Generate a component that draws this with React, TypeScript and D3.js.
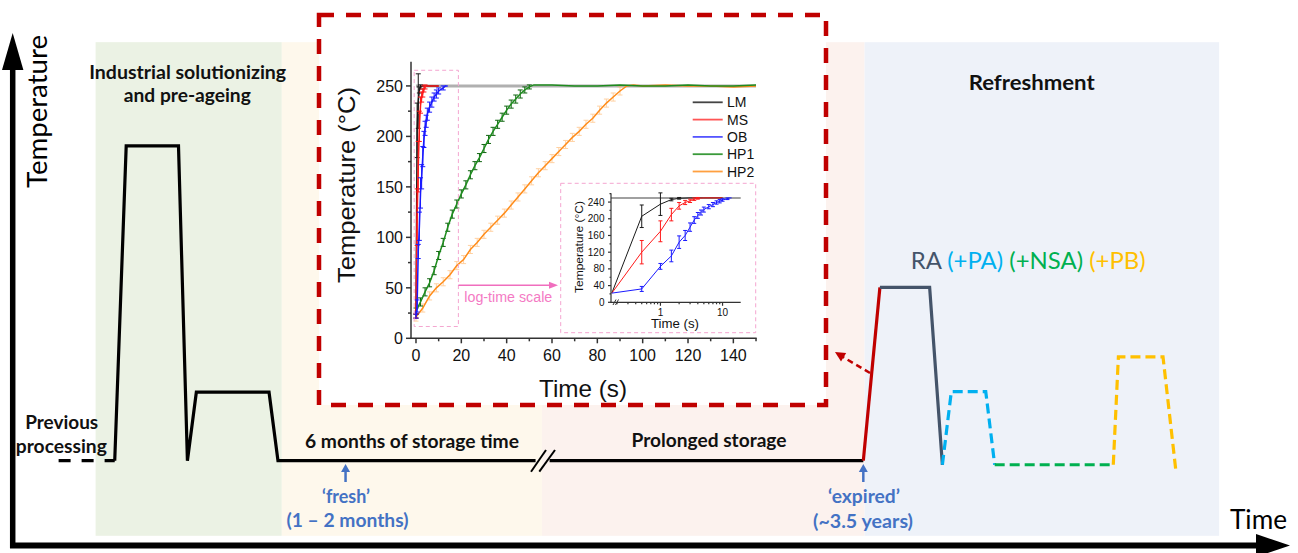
import * as d3 from "d3";
import React from "react";

// ---- inset heating curves (time s, temperature °C, error bar half size) ----
const lmTime = [0, 0.5, 1, 1.5, 2, 3, 5, 10];
const lmTemp = [22, 206, 235, 246, 249, 250, 250, 250];
const lmErr = [2, 27, 27, 3, 2, 1, 1, 1];

const msTime = [0, 0.5, 1, 1.5, 2, 2.5, 3, 3.5, 4, 5, 7, 10];
const msTemp = [22, 120, 170, 210, 231, 239, 243, 247, 249, 250, 250, 250];
const msErr = [2, 28, 25, 15, 8, 5, 4, 3, 2, 1, 1, 1];

const obTime = [0, 0.5, 1, 1.5, 2, 2.5, 3, 3.5, 4, 4.5, 5, 6, 7, 8, 9, 10, 12, 13, 14];
const obTemp = [22, 32, 86, 111, 144, 160, 180, 197, 208, 215, 222, 229, 234, 239, 242, 245, 248, 250, 250];
const obErr = [2, 6, 7, 14, 15, 12, 10, 8, 7, 6, 6, 5, 5, 4, 4, 3, 2, 1, 1];

const hp1Time = [0, 2, 4, 6, 8, 10, 12, 14, 16, 18, 20, 22, 24, 26, 28, 30, 32, 34, 36, 38, 40, 42, 44, 46, 48, 50, 52,
  56, 60, 70, 80, 90, 100, 110, 120, 130, 140, 150];
const hp1Temp = [27, 36, 46, 55, 67, 82, 95, 110, 123, 133, 143, 152, 162, 171, 179, 188, 197, 205, 212, 219, 226, 232, 237, 242, 246, 249, 251,
  251, 251, 250, 250, 251, 250, 250, 251, 250, 250, 251];
const hp1Err = [3, 4, 4, 4, 4, 4, 4, 4, 4, 4, 4, 4, 4, 4, 4, 4, 4, 4, 4, 4, 4, 4, 4, 4, 3, 2, 1,
  1, 1, 1, 1, 1, 1, 1, 1, 1, 1, 1];

const hp2Time = [0, 3, 6, 9, 12, 15, 18, 21, 24, 27, 30, 33, 36, 39, 42, 45, 48, 51, 54, 57, 60, 63, 66, 69, 72, 75, 78, 81, 84, 87, 90, 93,
  96, 100, 110, 120, 130, 140, 150];
const hp2Temp = [21, 30, 42, 50, 56, 63, 72, 78, 88, 95, 103, 110, 117, 124, 132, 140, 148, 156, 164, 171, 178, 185, 192, 199, 205, 212, 218, 226, 233, 239, 245, 250,
  251, 250, 251, 250, 250, 249, 250];
const hp2Err = hp2Time.map((t) => (t < 93 ? 4 : 1));

const legendNames = ["LM", "MS", "OB", "HP1", "HP2"];
const mainXTicks = [0, 20, 40, 60, 80, 100, 120, 140];
const mainYTicks = [0, 50, 100, 150, 200, 250];
const insetXTicks = [1, 10];
const insetYTicks = [0, 40, 80, 120, 160, 200, 240];
const setTemp = 250;

// ---- schematic thermal history (arbitrary time / temperature units 0-100) ----
const prevTime = [3.6, 8.0];
const prevTemp = [16.5, 16.5];
const industTime = [8.0, 8.9, 13.0, 13.7, 14.4, 20.1, 20.8, 41.0];
const industTemp = [16.5, 78.1, 78.1, 16.5, 29.9, 29.9, 16.5, 16.5];
const storeTime = [42.1, 66.7];
const storeTemp = [16.5, 16.5];
const heatTime = [66.7, 68.0];
const heatTemp = [16.5, 50.4];
const raTime = [68.0, 71.9, 72.9];
const raTemp = [50.4, 50.4, 15.7];
const paTime = [72.9, 73.6, 76.3, 77.0];
const paTemp = [15.7, 30.0, 30.0, 15.7];
const nsaTime = [77.0, 86.3];
const nsaTemp = [15.7, 15.7];
const pbTime = [86.3, 86.7, 90.2, 91.2];
const pbTemp = [15.7, 36.8, 36.8, 14.7];

const stageStart = [6.5, 21.1, 41.5, 66.8];
const stageEnd = [21.1, 41.5, 66.8, 94.6];
const stageColors = ["#ebf2e4", "#fef8ec", "#fcf2ee", "#eef2f9"];

const zip = (a: number[], b: number[]) => a.map((v, i) => [v, b[i]] as [number, number]);

export default function App() {
  const xS = d3.scaleLinear().domain([0, 100]).range([12.7, 1288]);
  const yS = d3.scaleLinear().domain([0, 100]).range([545, 34]);
  const sLine = d3.line<[number, number]>().x((d) => xS(d[0])).y((d) => yS(d[1]));

  const xM = d3.scaleLinear().domain([-2.2, 150.3]).range([411, 756.7]);
  const yM = d3.scaleLinear().domain([0, 274]).range([338.3, 61.7]);
  const mLine = d3.line<[number, number]>().x((d) => xM(d[0])).y((d) => yM(d[1]));

  const xI = d3.scaleLog().domain([0.16, 19.6]).range([611, 740.7]);
  const yI = d3.scaleLinear().domain([0, 261]).range([302.3, 193.3]);
  const iLine = d3.line<[number, number]>().x((d) => xI(Math.max(d[0], 0.165))).y((d) => yI(d[1]));

  const chartFont = "'Liberation Sans', Arial, sans-serif";
  const sketchFont = "Lato, 'Open Sans', sans-serif";

  const series = [
    { name: "LM", t: lmTime, v: lmTemp, e: lmErr, color: "#1a1a1a", bar: "#1a1a1a" },
    { name: "MS", t: msTime, v: msTemp, e: msErr, color: "#ff1a1a", bar: "#ff1a1a" },
    { name: "OB", t: obTime, v: obTemp, e: obErr, color: "#1a1aff", bar: "#1a1aff" },
    { name: "HP1", t: hp1Time, v: hp1Temp, e: hp1Err, color: "#1e8c1e", bar: "#116611" },
    { name: "HP2", t: hp2Time, v: hp2Temp, e: hp2Err, color: "#ff8c1a", bar: "#ffb466" },
  ];
  const legendColors = ["#444", "#ff5555", "#5555ff", "#3a9a3a", "#ffa040"];
  const drawOrder = [4, 3, 0, 1, 2];
  const insetSeries = [0, 1, 2];

  // error bars are only drawn where they are visible (skip the settled plateau)
  const errBars = (s: any, x: any, y: any, cap: number) =>
    s.t.map((t: number, i: number) => {
      if (s.e[i] <= 1) return null;
      const cx = x(t);
      const y1 = y(s.v[i] - s.e[i]);
      const y2 = y(s.v[i] + s.e[i]);
      return (
        <g key={s.name + i} stroke={s.bar} strokeWidth={1} opacity={s.name === "HP2" ? 0.6 : 1}>
          <line x1={cx} x2={cx} y1={y1} y2={y2} />
          <line x1={cx - cap} x2={cx + cap} y1={y1} y2={y1} />
          <line x1={cx - cap} x2={cx + cap} y1={y2} y2={y2} />
        </g>
      );
    });

  const blueArrow = (t: number) => {
    const x = xS(t);
    return (
      <g key={"ba" + t}>
        <line x1={x} x2={x} y1={482} y2={470} stroke="#4472c4" strokeWidth={2.5} />
        <polygon points={`${x},${464} ${x - 4.5},${472} ${x + 4.5},${472}`} fill="#4472c4" />
      </g>
    );
  };

  return (
    <svg width={1298} height={553} style={{ position: "absolute", left: 0, top: 0, background: "#fff" }}>
      {/* stage panels */}
      {stageStart.map((s, i) => (
        <rect key={"p" + i} x={xS(s)} y={yS(98.4)} width={xS(stageEnd[i]) - xS(s)} height={yS(1.8) - yS(98.4)} fill={stageColors[i]} />
      ))}

      {/* axes of the schematic */}
      <line x1={12.7} x2={12.7} y1={548} y2={66} stroke="#000" strokeWidth={5.5} />
      <polygon points="12.7,33 2,70 23.4,70" fill="#000" />
      <line x1={10} x2={1260} y1={545.5} y2={545.5} stroke="#000" strokeWidth={6} />
      <polygon points="1290,545.5 1256,534 1256,557" fill="#000" />
      <text transform="translate(46.5,111.5) rotate(-90)" textAnchor="middle" fontFamily={sketchFont} fontSize={27}
        textLength={153} lengthAdjust="spacingAndGlyphs">Temperature</text>
      <text x={1230} y={529} fontFamily={sketchFont} fontSize={27} textLength={57} lengthAdjust="spacingAndGlyphs">Time</text>

      {/* stage labels */}
      <g fontFamily={sketchFont} fontWeight="bold" fontSize={19} fill="#111" textAnchor="middle">
        <text x={187.7} y={79.3} textLength={197} lengthAdjust="spacingAndGlyphs">Industrial solutionizing</text>
        <text x={187.3} y={101.7} textLength={127} lengthAdjust="spacingAndGlyphs">and pre-ageing</text>
        <text x={61.7} y={429.3} textLength={73} lengthAdjust="spacingAndGlyphs">Previous</text>
        <text x={61.3} y={453.3} textLength={91} lengthAdjust="spacingAndGlyphs">processing</text>
        <text x={412} y={448.3} textLength={214} lengthAdjust="spacingAndGlyphs">6 months of storage time</text>
        <text x={709} y={446.7} textLength={155} lengthAdjust="spacingAndGlyphs">Prolonged storage</text>
        <text x={1031.7} y={90} fontSize={21} textLength={126} lengthAdjust="spacingAndGlyphs">Refreshment</text>
      </g>
      <g fontFamily={sketchFont} fontWeight="bold" fontSize={19} fill="#4472c4" textAnchor="middle">
        <text x={346} y={503.3} textLength={48} lengthAdjust="spacingAndGlyphs">‘fresh’</text>
        <text x={347.5} y={526.7} textLength={122} lengthAdjust="spacingAndGlyphs">(1 – 2 months)</text>
        <text x={864} y={503} textLength={72} lengthAdjust="spacingAndGlyphs">‘expired’</text>
        <text x={863} y={528} textLength={100} lengthAdjust="spacingAndGlyphs">(~3.5 years)</text>
      </g>
      {blueArrow(26.1)}
      {blueArrow(66.7)}

      <text x={910.7} y={269} fontFamily={sketchFont} fontSize={24} textLength={235} lengthAdjust="spacingAndGlyphs">
        <tspan fill="#44546a">RA </tspan>
        <tspan fill="#00b0f0">(+PA) </tspan>
        <tspan fill="#00b050">(+NSA) </tspan>
        <tspan fill="#ffc000">(+PB)</tspan>
      </text>

      {/* thermal history */}
      <g fill="none" strokeWidth={3.2} strokeLinejoin="miter">
        <path d={sLine(zip(prevTime, prevTemp)) || ""} stroke="#000" strokeDasharray="12 11" />
        <path d={sLine(zip(industTime, industTemp)) || ""} stroke="#000" />
        <path d={sLine(zip(storeTime, storeTemp)) || ""} stroke="#000" />
        <path d={sLine(zip(heatTime, heatTemp)) || ""} stroke="#c00000" />
        <path d={sLine(zip(raTime, raTemp)) || ""} stroke="#44546a" />
        <path d={sLine(zip(paTime, paTemp)) || ""} stroke="#00b0f0" strokeDasharray="10 5" />
        <path d={sLine(zip(nsaTime, nsaTemp)) || ""} stroke="#00b050" strokeDasharray="10 5" />
        <path d={sLine(zip(pbTime, pbTemp)) || ""} stroke="#ffc000" strokeDasharray="10 5" />
      </g>
      {/* axis break on storage line */}
      <g stroke="#000" strokeWidth={2}>
        <line x1={531} y1={471.7} x2={546} y2={450} />
        <line x1={539.3} y1={471.7} x2={555} y2={450} />
      </g>

      {/* highlighted measurement box */}
      <rect x={319} y={15} width={507} height={390} fill="#fff" stroke="#c00000" strokeWidth={4.5} strokeDasharray="15 12" />
      <line x1={870} y1={373} x2={843} y2={357} stroke="#c00000" strokeWidth={2.5} strokeDasharray="6 4" />
      <polygon points="835,352 846.2,352.9 841,361.5" fill="#c00000" />

      {/* main heating-curve plot */}
      <g fontFamily={chartFont}>
        <line x1={xM(0)} x2={xM(150)} y1={yM(setTemp)} y2={yM(setTemp)} stroke="#b0b0b0" strokeWidth={3} />
        {drawOrder.map((k) => {
          const s = series[k];
          return (
            <g key={s.name}>
              {errBars(s, xM, yM, 2.5)}
              <path d={mLine(zip(s.t, s.v)) || ""} fill="none" stroke={s.color} strokeWidth={1.5} />
            </g>
          );
        })}
        <g stroke="#333" strokeWidth={1.5}>
          <line x1={411} x2={411} y1={61.7} y2={339} />
          <line x1={410.3} x2={756.7} y1={338.3} y2={338.3} />
          {mainYTicks.map((t) => <line key={"my" + t} x1={406} x2={411} y1={yM(t)} y2={yM(t)} />)}
          {d3.range(25, 274, 50).map((t) => <line key={"mym" + t} x1={408} x2={411} y1={yM(t)} y2={yM(t)} />)}
          {mainXTicks.map((t) => <line key={"mx" + t} x1={xM(t)} x2={xM(t)} y1={338.3} y2={343.3} />)}
          {d3.range(10, 151, 20).map((t) => <line key={"mxm" + t} x1={xM(t)} x2={xM(t)} y1={338.3} y2={341.3} />)}
        </g>
        {mainYTicks.map((t) => (
          <text key={"myl" + t} x={403} y={yM(t)} dy="0.36em" textAnchor="end" fontSize={16} fill="#111">{t}</text>
        ))}
        {mainXTicks.map((t) => (
          <text key={"mxl" + t} x={xM(t)} y={360.7} textAnchor="middle" fontSize={16} fill="#111">{t}</text>
        ))}
        <text transform="translate(355,185) rotate(-90)" textAnchor="middle" fontSize={24} fill="#111"
          textLength={196} lengthAdjust="spacingAndGlyphs">Temperature (°C)</text>
        <text x={583} y={396.7} textAnchor="middle" fontSize={24} fill="#111" textLength={88} lengthAdjust="spacingAndGlyphs">Time (s)</text>

        {/* legend */}
        {legendNames.map((n, i) => (
          <g key={"lg" + n}>
            <line x1={692.7} x2={722.7} y1={102.3 + i * 17.3} y2={102.3 + i * 17.3} stroke={legendColors[i]} strokeWidth={1.8} />
            <text x={727} y={102.3 + i * 17.3} dy="0.36em" fontSize={14} fill="#111">{n}</text>
          </g>
        ))}

        {/* zoomed region and arrow */}
        <rect x={xM(-0.8)} y={yM(265.5)} width={xM(18.7) - xM(-0.8)} height={yM(11.7) - yM(265.5)} fill="none"
          stroke="#f4a6d0" strokeWidth={1} strokeDasharray="4 3" />
        <line x1={xM(18.7)} x2={551} y1={yM(52.5)} y2={yM(52.5)} stroke="#f06ebe" strokeWidth={1.5} />
        <polygon points={`558,${yM(52.5)} 549,${yM(52.5) - 3.5} 549,${yM(52.5) + 3.5}`} fill="#f06ebe" />
        <text x={508.3} y={302} textAnchor="middle" fontSize={14} fill="#f47ac4" textLength={88} lengthAdjust="spacingAndGlyphs">log-time scale</text>

        {/* inset with log time */}
        <rect x={560.7} y={183.3} width={195} height={149.4} fill="none" stroke="#f4a6d0" strokeWidth={1} strokeDasharray="4 3" />
        <line x1={611} x2={740.7} y1={yI(setTemp)} y2={yI(setTemp)} stroke="#a0a0a0" strokeWidth={2} />
        {insetSeries.map((k) => {
          const s = series[k];
          const keep = s.t.map((t) => t > 0);
          return (
            <g key={"in" + s.name}>
              <path d={iLine(zip(s.t, s.v)) || ""} fill="none" stroke={s.color} strokeWidth={1} />
              {errBars({ ...s, t: s.t.filter((_, i) => keep[i]), v: s.v.filter((_, i) => keep[i]), e: s.e.filter((_, i) => keep[i]) },
                xI, yI, 2)}
            </g>
          );
        })}
        <g stroke="#333" strokeWidth={1.2}>
          <line x1={611} x2={611} y1={193.3} y2={302.8} />
          <line x1={610.5} x2={740.7} y1={302.3} y2={302.3} />
          {insetYTicks.map((t) => <line key={"iy" + t} x1={608} x2={611} y1={yI(t)} y2={yI(t)} />)}
          {d3.range(20, 261, 40).map((t) => <line key={"iym" + t} x1={609.5} x2={611} y1={yI(t)} y2={yI(t)} />)}
          {insetXTicks.map((t) => <line key={"ix" + t} x1={xI(t)} x2={xI(t)} y1={302.3} y2={305.8} />)}
          {xI.ticks().filter((t) => insetXTicks.indexOf(t) < 0).map((t, i) => (
            <line key={"ixm" + i} x1={xI(t)} x2={xI(t)} y1={302.3} y2={304.3} />
          ))}
        </g>
        <g stroke="#333" strokeWidth={1}>
          <line x1={613} y1={305} x2={616} y2={299.5} />
          <line x1={615.5} y1={305} x2={618.5} y2={299.5} />
        </g>
        {insetYTicks.map((t) => (
          <text key={"iyl" + t} x={604.5} y={yI(t)} dy="0.36em" textAnchor="end" fontSize={10} fill="#111">{t}</text>
        ))}
        {insetXTicks.map((t) => (
          <text key={"ixl" + t} x={xI(t)} y={315.5} textAnchor="middle" fontSize={10} fill="#111">{t}</text>
        ))}
        <text x={675} y={328.3} textAnchor="middle" fontSize={13} fill="#111" textLength={48} lengthAdjust="spacingAndGlyphs">Time (s)</text>
        <text transform="translate(582.5,247) rotate(-90)" textAnchor="middle" fontSize={11.5} fill="#111"
          textLength={92} lengthAdjust="spacingAndGlyphs">Temperature (°C)</text>
      </g>
    </svg>
  );
}
